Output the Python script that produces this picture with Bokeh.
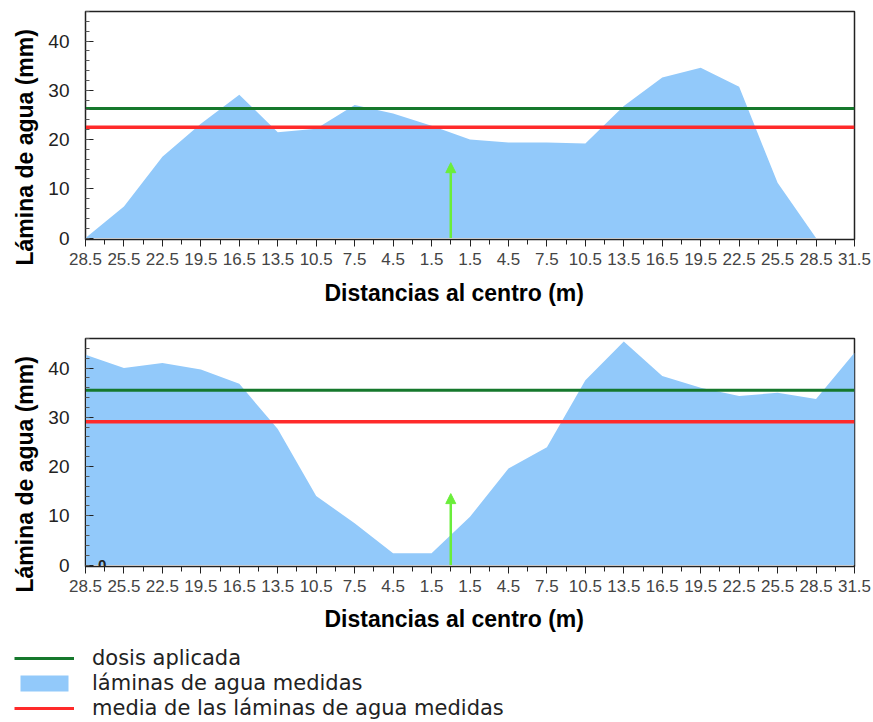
from bokeh.plotting import figure
from bokeh.models import (Range1d, FixedTicker, SingleIntervalTicker, Arrow, NormalHead,
                          Title, Label, Legend, LegendItem)
from bokeh.layouts import column
from bokeh.embed import file_html
from bokeh.resources import INLINE

# ---------------- data ----------------
# signed distance to the centre (m); left side negative, labelled by absolute value
distances = [-28.5, -25.5, -22.5, -19.5, -16.5, -13.5, -10.5, -7.5, -4.5, -1.5,
             1.5, 4.5, 7.5, 10.5, 13.5, 16.5, 19.5, 22.5, 25.5, 28.5, 31.5]
laminas_top = [0.0, 6.4, 16.5, 23.2, 29.1, 21.5, 22.2, 27.0, 25.3, 22.8,
               20.0, 19.4, 19.4, 19.2, 26.8, 32.6, 34.6, 30.7, 11.2, 0.0, 0.0]
laminas_bottom = [42.7, 40.0, 41.0, 39.7, 36.8, 27.6, 14.0, 8.5, 2.4, 2.4,
                  9.8, 19.6, 23.9, 37.5, 45.4, 38.4, 36.0, 34.3, 35.0, 33.7, 43.1]
dosis_top = 26.3
media_top = 22.5
dosis_bottom = 35.5
media_bottom = 29.1
arrow_x = 0.0
arrow_tip_top = 15.3
arrow_tip_bottom = 14.5

x_tick_values = [-28.5, -25.5, -22.5, -19.5, -16.5, -13.5, -10.5, -7.5, -4.5, -1.5,
                 1.5, 4.5, 7.5, 10.5, 13.5, 16.5, 19.5, 22.5, 25.5, 28.5, 31.5]
x_tick_labels = ["28.5", "25.5", "22.5", "19.5", "16.5", "13.5", "10.5", "7.5", "4.5", "1.5",
                 "1.5", "4.5", "7.5", "10.5", "13.5", "16.5", "19.5", "22.5", "25.5", "28.5", "31.5"]
x_minor_ticks = [-27.0, -24.0, -21.0, -18.0, -15.0, -12.0, -9.0, -6.0, -3.0, 0.0,
                 3.0, 6.0, 9.0, 12.0, 15.0, 18.0, 21.0, 24.0, 27.0, 30.0]

y_label = "Lámina de agua (mm)"
x_label = "Distancias al centro (m)"
legend_labels = ["dosis aplicada", "láminas de agua medidas",
                 "media de las láminas de agua medidas"]

# ---------------- style ----------------
BLUE = "#92c9fa"
GREEN = "#16782c"
RED = "#ff2a2a"
ARROW = "#6aee3a"
FONT = "Liberation Sans"
W = 872


def chart(values, dosis, media, arrow_tip, height, border_top, border_bottom,
          title_standoff, zero_mark=False):
    p = figure(width=W, height=height,
               x_range=Range1d(distances[0], distances[-1]),
               y_range=Range1d(-0.3, 46),
               output_backend="svg", toolbar_location=None, tools="",
               min_border_left=85, min_border_right=18,
               min_border_top=border_top, min_border_bottom=border_bottom,
               background_fill_color="white", border_fill_color="white",
               outline_line_color="#222222", outline_line_width=1.5)
    p.grid.visible = False

    p.varea(x=distances, y1=0, y2=values, fill_color=BLUE, fill_alpha=1.0)
    ends = [distances[0], distances[-1]]
    p.line(x=ends, y=[dosis, dosis], line_color=GREEN, line_width=3)
    p.line(x=ends, y=[media, media], line_color=RED, line_width=3.5)
    p.add_layout(Arrow(x_start=arrow_x, y_start=0, x_end=arrow_x, y_end=arrow_tip,
                       line_color=ARROW, line_width=2.5,
                       end=NormalHead(size=10, fill_color=ARROW, line_color=ARROW)))

    xa = p.xaxis[0]
    xa.ticker = FixedTicker(ticks=x_tick_values, minor_ticks=x_minor_ticks)
    xa.major_label_overrides = dict(zip(x_tick_values, x_tick_labels))
    xa.major_tick_in = 0
    xa.major_tick_out = 7
    xa.minor_tick_in = 0
    xa.minor_tick_out = 5
    xa.major_label_standoff = 6
    xa.major_label_text_font = FONT
    xa.major_label_text_font_size = "17px"
    xa.major_label_text_color = "#444444"
    xa.axis_line_color = "#222222"
    xa.major_tick_line_color = "#222222"
    xa.minor_tick_line_color = "#222222"

    ya = p.yaxis[0]
    ya.ticker = SingleIntervalTicker(interval=10, num_minor_ticks=5)
    ya.major_tick_in = 8
    ya.major_tick_out = 0
    ya.minor_tick_in = 4
    ya.minor_tick_out = 0
    ya.major_label_standoff = 16
    ya.major_label_text_font = FONT
    ya.major_label_text_font_size = "19px"
    ya.major_label_text_color = "#222222"
    ya.axis_line_color = "#222222"
    ya.major_tick_line_color = "#222222"
    ya.minor_tick_line_color = "#555555"

    p.add_layout(Title(text=y_label, align="left", offset=-26, standoff=16,
                       text_font=FONT, text_font_size="23px", text_font_style="bold",
                       text_color="black"), "left")
    p.add_layout(Title(text=x_label, align="left", offset=239, standoff=title_standoff,
                       text_font=FONT, text_font_size="23px", text_font_style="bold",
                       text_color="black"), "below")
    if zero_mark:
        p.add_layout(Label(x=distances[0] + 1.3, y=0, text="0", text_font=FONT,
                           text_font_size="15px", text_font_style="bold",
                           text_align="center", text_baseline="middle",
                           text_color="#222222"))
    return p


p1 = chart(laminas_top, dosis_top, media_top, arrow_tip_top, 318, 11, 79, 20)
p2 = chart(laminas_bottom, dosis_bottom, media_bottom, arrow_tip_bottom, 326, 20, 78, 19,
           zero_mark=True)

# ---------------- legend (own figure, frame = whole canvas) ----------------
leg = figure(width=W, height=76, x_range=Range1d(0, 1), y_range=Range1d(0, 1),
             output_backend="svg", toolbar_location=None, tools="",
             min_border_left=0, min_border_right=0, min_border_top=0, min_border_bottom=0,
             x_axis_location=None, y_axis_location=None, outline_line_color=None,
             background_fill_color="white", border_fill_color="white")
leg.grid.visible = False
nan = float("nan")
r_dosis = leg.line(x=[nan], y=[nan], line_color=GREEN, line_width=3)
r_lam = leg.varea(x=[nan], y1=[nan], y2=[nan], fill_color=BLUE)
r_media = leg.line(x=[nan], y=[nan], line_color=RED, line_width=3)
legend = Legend(items=[LegendItem(label=legend_labels[0], renderers=[r_dosis]),
                       LegendItem(label=legend_labels[1], renderers=[r_lam]),
                       LegendItem(label=legend_labels[2], renderers=[r_media])],
                location=(14, 0), glyph_width=60, glyph_height=20, label_height=24,
                spacing=1, padding=0, margin=0, label_standoff=18,
                label_text_font="DejaVu Sans", label_text_font_size="21px",
                label_text_color="#222222", border_line_color=None,
                background_fill_alpha=0)
leg.add_layout(legend, "center")

layout = column(column(p1, p2, spacing=0), leg, spacing=0)
open("out.html", "w").write(file_html(layout, INLINE))
